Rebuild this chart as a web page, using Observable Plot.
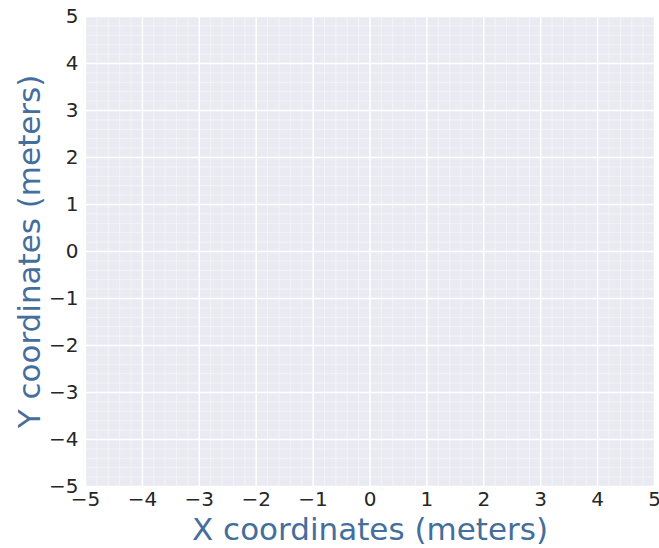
<!DOCTYPE html>
<html>
<head>
<meta charset="utf-8">
<script src="https://cdn.jsdelivr.net/npm/d3@7"></script>
<script src="https://cdn.jsdelivr.net/npm/@observablehq/plot@0.6"></script>
<style>
  html, body { margin: 0; padding: 0; background: #ffffff; }
  #chart svg { display: block; }
</style>
</head>
<body>
<div id="chart"></div>
<script>
const xDomain = [-5, 5];
const yDomain = [-5, 5];
const majorTicks = [-5, -4, -3, -2, -1, 0, 1, 2, 3, 4, 5];
const minorTicks = [
  -5, -4.8, -4.6, -4.4, -4.2, -4, -3.8, -3.6, -3.4, -3.2,
  -3, -2.8, -2.6, -2.4, -2.2, -2, -1.8, -1.6, -1.4, -1.2,
  -1, -0.8, -0.6, -0.4, -0.2, 0, 0.2, 0.4, 0.6, 0.8,
  1, 1.2, 1.4, 1.6, 1.8, 2, 2.2, 2.4, 2.6, 2.8,
  3, 3.2, 3.4, 3.6, 3.8, 4, 4.2, 4.4, 4.6, 4.8, 5
];
const xLabel = "X coordinates (meters)";
const yLabel = "Y coordinates (meters)";

const labelColor = "#446e9b";
const tickColor = "#262626";

const chart = Plot.plot({
  width: 659,
  height: 548,
  marginLeft: 85,
  marginRight: 5,
  marginTop: 16,
  marginBottom: 62,
  style: { fontFamily: "DejaVu Sans", background: "white" },
  x: { domain: xDomain },
  y: { domain: yDomain },
  marks: [
    Plot.frame({ fill: "#eaeaf2", stroke: null }),
    Plot.ruleX(minorTicks, { stroke: "white", strokeWidth: 0.8, strokeOpacity: 0.55 }),
    Plot.ruleY(minorTicks, { stroke: "white", strokeWidth: 0.8, strokeOpacity: 0.55 }),
    Plot.ruleX(majorTicks, { stroke: "white", strokeWidth: 1.4 }),
    Plot.ruleY(majorTicks, { stroke: "white", strokeWidth: 1.4 }),
    Plot.axisX({ ticks: majorTicks, tickSize: 0, tickPadding: 5, fontSize: 20, fill: tickColor, label: null }),
    Plot.axisY({ ticks: majorTicks, tickSize: 0, tickPadding: 7, fontSize: 20, fill: tickColor, label: null }),
    Plot.text([xLabel], { text: d => d, frameAnchor: "bottom", dy: 44, fontSize: 31, fill: labelColor, lineAnchor: "middle", textAnchor: "middle" }),
    Plot.text([yLabel], { text: d => d, frameAnchor: "left", dx: -55, rotate: -90, fontSize: 31, fill: labelColor, lineAnchor: "middle", textAnchor: "middle" })
  ]
});
document.getElementById("chart").appendChild(chart);
</script>
</body>
</html>
